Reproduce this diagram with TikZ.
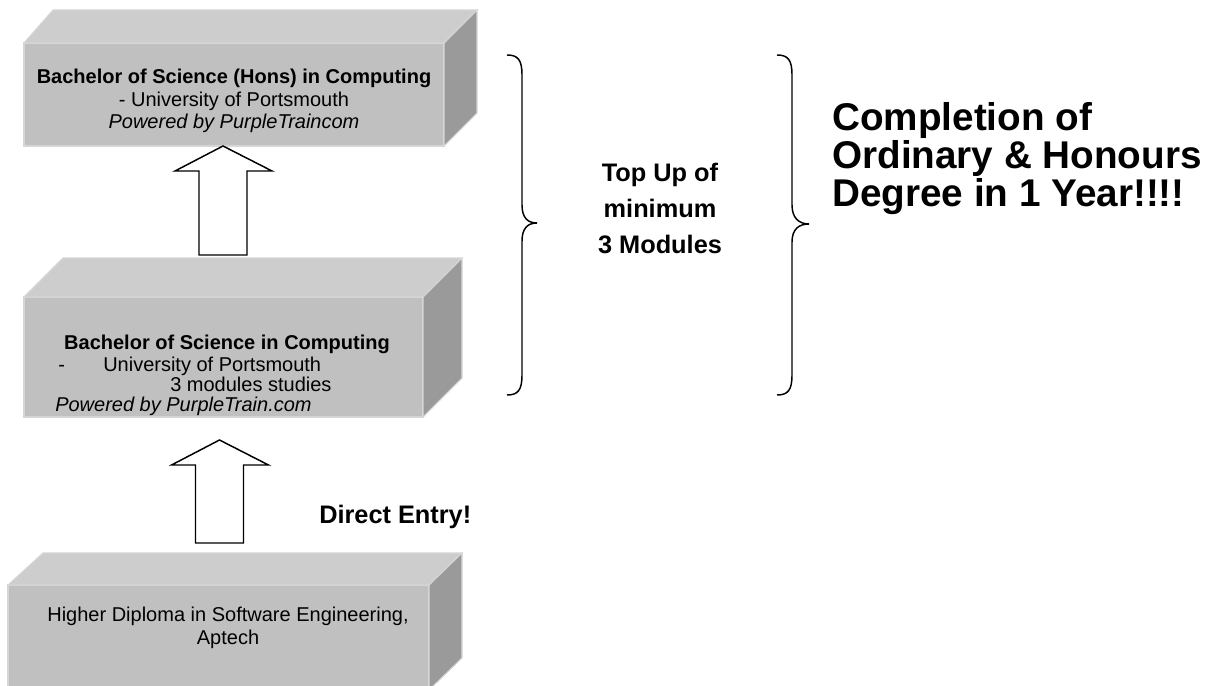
\documentclass[tikz,border=0pt]{standalone}
\usepackage{fontspec}
\setmainfont{Liberation Sans}
\definecolor{frontc}{HTML}{C0C0C0}
\definecolor{topc}{HTML}{CDCDCD}
\definecolor{sidec}{HTML}{9A9A9A}
\definecolor{edgec}{HTML}{D6D6D6}
\begin{document}
\begin{tikzpicture}[x=0.75pt,y=-0.75pt,
  face/.style={draw=edgec,line width=0.8pt,line join=miter},
  frontface/.style={face,fill=frontc,inner sep=0pt,outer sep=0pt,anchor=north west},
  boxtext/.style={font=\fontsize{15}{17}\selectfont,inner sep=0pt,anchor=base},
  boxline/.style={font=\fontsize{15}{17}\selectfont,inner sep=0pt,anchor=base west},
  blockarrow/.style={draw=black,fill=white,line width=1.1pt,line join=miter},
  bracepath/.style={draw=black,line width=1.1pt},
  midtext/.style={font=\bfseries\fontsize{19}{23}\selectfont,inner sep=0pt,anchor=base},
  bigtext/.style={font=\bfseries\fontsize{29}{34}\selectfont,inner sep=0pt,anchor=base west},
  entrytext/.style={font=\bfseries\fontsize{19}{23}\selectfont,inner sep=0pt,anchor=base west}
]
\useasboundingbox (0,0) rectangle (1220,685);

% ---------- Box 1 ----------
\node[frontface,minimum width=315pt,minimum height=77.25pt] (b1) at (24,43) {};
\draw[face,fill=topc] (b1.north west) -- ++(29,-33) -- ++(424,0) -- (b1.north east) -- cycle;
\draw[face,fill=sidec] (b1.north east) -- ++(33,-33) -- ++(0,103) -- (b1.south east) -- cycle;
\node[boxtext] (b1l1) at (234,84) {\bfseries Bachelor of Science (Hons) in Computing};
\node[boxtext] (b1l2) at (234,107) {- University of Portsmouth};
\node[boxtext] (b1l3) at (234,128) {\itshape Powered by PurpleTraincom};

% ---------- Block arrow 1 (behind box 2) ----------
\coordinate (a1tip) at ([xshift=-8.25pt]b1.south);
\draw[blockarrow] (a1tip) -- ++(49,25) -- ++(-25,0) -- ++(0,84) -- ++(-48,0) -- ++(0,-84) -- ++(-24,0) -- cycle;

% ---------- Box 2 ----------
\node[frontface,minimum width=299.25pt,minimum height=90pt] (b2) at (24,297) {};
\draw[face,fill=topc] (b2.north west) -- ++(39,-39) -- ++(399,0) -- (b2.north east) -- cycle;
\draw[face,fill=sidec] (b2.north east) -- ++(39,-39) -- ++(0,120) -- (b2.south east) -- cycle;
\node[boxtext] (b2l1) at (227,349) {\bfseries Bachelor of Science in Computing};
\node[boxline] (b2dash) at (58,371) {-};
\node[boxline] (b2l2) at (103,371) {University of Portsmouth};
\node[boxline] (b2l3) at (170,391) {3 modules studies};
\node[boxline] (b2l4) at (55,411) {\itshape Powered by PurpleTrain.com};

% ---------- Box 3 ----------
\node[frontface,minimum width=315.75pt,minimum height=78.75pt] (b3) at (8,585) {};
\draw[face,fill=topc] (b3.north west) -- ++(35,-32) -- ++(419,0) -- (b3.north east) -- cycle;
\draw[face,fill=sidec] (b3.north east) -- ++(33,-32) -- ++(0,105) -- (b3.south east) -- cycle;
\node[boxtext] (b3l1) at (228,621) {Higher Diploma in Software Engineering,};
\node[boxtext] (b3l2) at (228,644) {Aptech};

% ---------- Block arrow 2 ----------
\coordinate (a2tip) at ([xshift=-3pt,yshift=-17.25pt]b2.south);
\draw[blockarrow] (a2tip) -- ++(49,25) -- ++(-25,0) -- ++(0,78) -- ++(-48,0) -- ++(0,-78) -- ++(-24,0) -- cycle;

% ---------- Braces ----------
\draw[bracepath] (507,55) .. controls (518,55) and (522,60) .. (522,75) -- (522,205)
  .. controls (522,218) and (528,223) .. (537,223)
  .. controls (528,223) and (522,228) .. (522,241) -- (522,375)
  .. controls (522,390) and (518,395) .. (507,395);
\draw[bracepath] (777,55) .. controls (788,55) and (792,60) .. (792,75) -- (792,205)
  .. controls (792,218) and (799,224) .. (809,224)
  .. controls (799,224) and (792,229) .. (792,242) -- (792,375)
  .. controls (792,390) and (788,395) .. (777,395);

% ---------- Labels ----------
\node[midtext] (tu1) at (660,181) {Top Up of};
\node[midtext] (tu2) at (660,217) {minimum};
\node[midtext] (tu3) at (660,253) {3 Modules};

\node[bigtext] (c1) at (832,130) {Completion of};
\node[bigtext] (c2) at (832,168) {Ordinary \& Honours};
\node[bigtext] (c3) at (832,206) {Degree in 1 Year!!!!};

\node[entrytext] (de) at (319,523) {Direct Entry!};
\end{tikzpicture}
\end{document}
